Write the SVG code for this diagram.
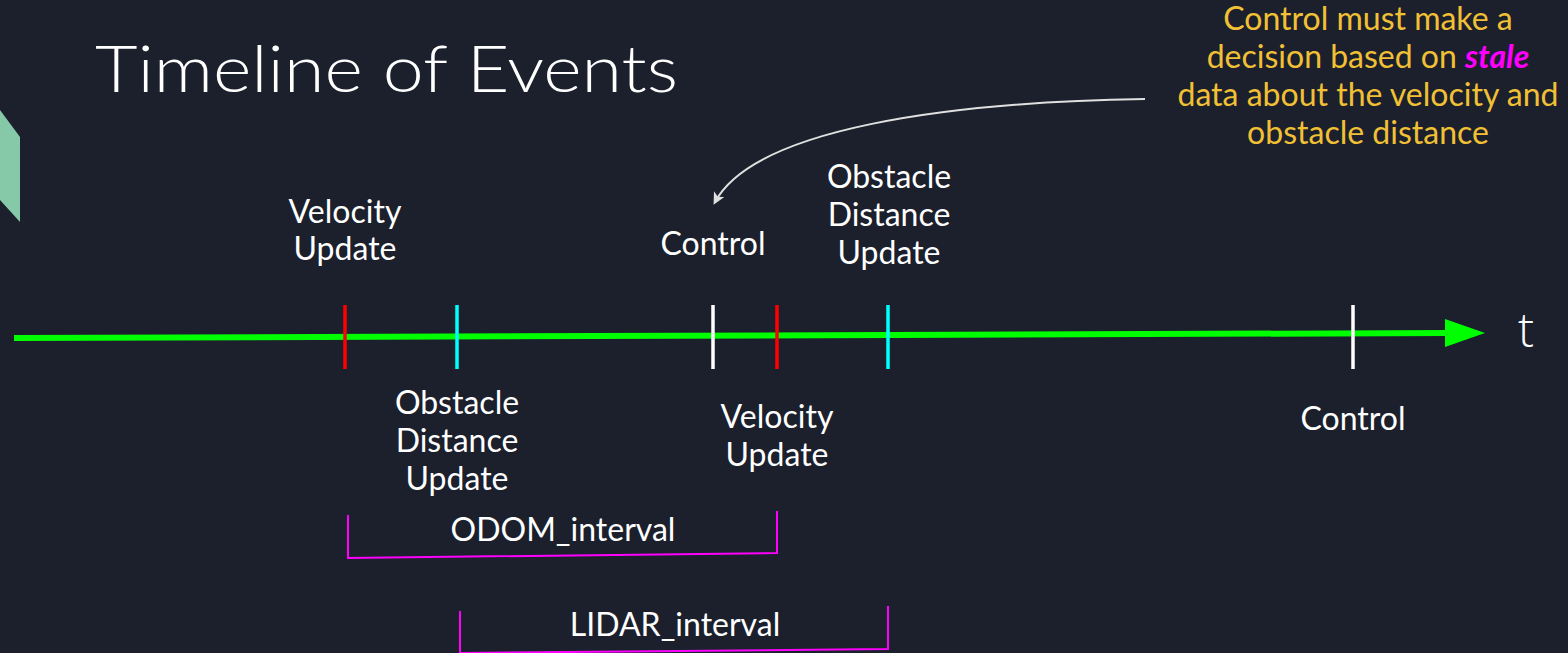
<svg xmlns="http://www.w3.org/2000/svg" width="1568" height="653" viewBox="0 0 1568 653">
<style>
.lbl{font-family:Lato,"Liberation Sans",sans-serif;font-size:32px;fill:#ffffff;text-anchor:middle}
.note{font-family:Lato,"Liberation Sans",sans-serif;font-size:32px;fill:#f2c035;text-anchor:middle}
.tick{stroke-width:3.5}
.br{fill:none;stroke:#ff00ff;stroke-width:2}
</style>
<defs>
<marker id="ah" markerWidth="12" markerHeight="12" refX="9" refY="6" orient="auto" markerUnits="userSpaceOnUse" viewBox="0 0 12 12">
<path d="M0,0 L12,6 L0,12 L3,6 z" fill="#e0e0e0"/>
</marker>
</defs>
<rect width="1568" height="653" fill="#1b202c"/>
<polygon points="0,110 20,137 20,222 0,200" fill="#86c9a8"/>
<text x="95" y="92" font-family="Lato,'Liberation Sans',sans-serif" font-weight="300" font-size="66" fill="#ffffff" textLength="583" lengthAdjust="spacingAndGlyphs">Timeline of Events</text>

<g id="connectors">
<line x1="14" y1="338" x2="1450" y2="333" stroke="#00ff00" stroke-width="6"/>
<polygon points="1445,319 1485,333 1445,347" fill="#00ff00"/>
<path d="M1145,99 C950,102 755,128 715,202" fill="none" stroke="#e0e0e0" stroke-width="2" marker-end="url(#ah)"/>
<path class="br" d="M348,515 L348,558 L777,553 L777,511"/>
<path class="br" d="M460,611 L460,653 L888,649 L888,606"/>
</g>

<g id="tick-vel1"><line class="tick" x1="345" y1="305" x2="345" y2="369" stroke="#ff0000"/></g>
<g id="tick-obs1"><line class="tick" x1="457" y1="305" x2="457" y2="369" stroke="#00ffff"/></g>
<g id="tick-ctrl1"><line class="tick" x1="713" y1="305" x2="713" y2="369" stroke="#ffffff"/></g>
<g id="tick-vel2"><line class="tick" x1="777" y1="305" x2="777" y2="369" stroke="#ff0000"/></g>
<g id="tick-obs2"><line class="tick" x1="888" y1="305" x2="888" y2="369" stroke="#00ffff"/></g>
<g id="tick-ctrl2"><line class="tick" x1="1353" y1="305" x2="1353" y2="369" stroke="#ffffff"/></g>

<g id="t-label"><text x="1526" y="347" font-family="'Open Sans','Liberation Sans',sans-serif" font-weight="300" font-size="48" fill="#ffffff" text-anchor="middle">t</text></g>

<g id="lbl-vel1"><text class="lbl" x="345" y="223">Velocity</text><text class="lbl" x="345" y="260">Update</text></g>
<g id="lbl-ctrl1"><text class="lbl" x="713" y="255">Control</text></g>
<g id="lbl-obs2"><text class="lbl" x="889" y="188">Obstacle</text><text class="lbl" x="889" y="226">Distance</text><text class="lbl" x="889" y="264">Update</text></g>
<g id="lbl-obs1"><text class="lbl" x="457" y="414">Obstacle</text><text class="lbl" x="457" y="452">Distance</text><text class="lbl" x="457" y="490">Update</text></g>
<g id="lbl-vel2"><text class="lbl" x="777" y="428">Velocity</text><text class="lbl" x="777" y="466">Update</text></g>
<g id="lbl-ctrl2"><text class="lbl" x="1353" y="430">Control</text></g>
<g id="lbl-odom"><text class="lbl" x="563" y="541">ODOM_interval</text></g>
<g id="lbl-lidar"><text class="lbl" x="675" y="636">LIDAR_interval</text></g>

<g id="note">
<text class="note" x="1368" y="30">Control must make a</text>
<text class="note" x="1368" y="68">decision based on <tspan fill="#ff00ff" font-weight="bold" font-style="italic">stale</tspan></text>
<text class="note" x="1368" y="106">data about the velocity and</text>
<text class="note" x="1368" y="144">obstacle distance</text>
</g>
</svg>
